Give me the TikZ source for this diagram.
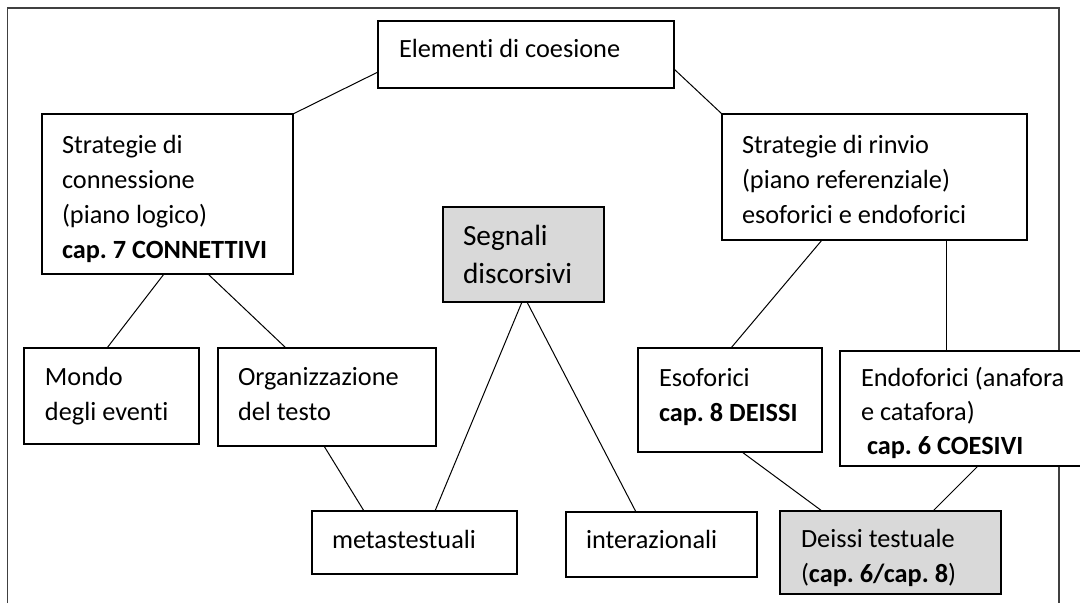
\documentclass[tikz,border=0pt]{standalone}
\usepackage{fontspec}
\setmainfont{Carlito}[Ligatures=NoCommon]
\frenchspacing
\definecolor{boxgray}{HTML}{D9D9D9}
\definecolor{framegray}{HTML}{404040}
\begin{document}
\begin{tikzpicture}[x=1pt,y=-1pt,
  box/.style={draw=black, line width=1.3pt, fill=white, inner sep=0pt, outer sep=0pt, anchor=north west},
  gbox/.style={box, fill=boxgray},
  txt/.style={anchor=base west, inner sep=0pt, outer sep=0pt, font=\fontsize{26.3}{34}\selectfont},
  btxt/.style={txt, font=\fontsize{26.3}{34}\selectfont\bfseries},
  bigtxt/.style={txt, font=\fontsize{29.3}{38}\selectfont},
  conn/.style={draw=black, line width=1pt},
  frame/.style={draw=framegray, line width=1.6pt}]
\clip (0,0) rectangle (1080,603);
\fill[white] (0,0) rectangle (1080,603);
% outer frame (open at the bottom)
\draw[frame] (7.5,603) -- (7.5,8) -- (1059,8) -- (1059,603);

% boxes
\node[box, minimum width=296pt, minimum height=67pt] (elem) at (378,21) {};
\node[box, minimum width=251pt, minimum height=160pt] (conn) at (42,114) {};
\node[box, minimum width=305pt, minimum height=126pt] (rinvio) at (722,114) {};
\node[gbox, minimum width=161pt, minimum height=95pt] (segn) at (443,207) {};
\node[box, minimum width=175pt, minimum height=96pt] (mondo) at (24,348) {};
\node[box, minimum width=218pt, minimum height=98pt] (organ) at (218,348) {};
\node[box, minimum width=205pt, minimum height=63pt] (meta) at (312,511) {};
\node[box, minimum width=191pt, minimum height=65pt] (inter) at (566,512) {};
\node[box, minimum width=184pt, minimum height=104pt] (eso) at (638,348) {};
\node[box, minimum width=260pt, minimum height=115pt] (endo) at (840,351) {};
\node[gbox, minimum width=221pt, minimum height=83pt] (deissi) at (780,511) {};

% texts
\node[txt] (elemA) at (399,57) {Elementi di coesione};

\node[txt] (connA) at (62,153) {Strategie di};
\node[txt] (connB) at (62,188) {connessione};
\node[txt] (connC) at (62,223) {(piano logico)};
\node[btxt] (connD) at (62,258) {cap. 7 CONNETTIVI};

\node[txt] (rinvA) at (742,153) {Strategie di rinvio};
\node[txt] (rinvB) at (742,188) {(piano referenziale)};
\node[txt] (rinvC) at (742,223) {esoforici e endoforici};

\node[bigtxt] (segnA) at (463,245) {Segnali};
\node[bigtxt] (segnB) at (463,283) {discorsivi};

\node[txt] (mondoA) at (45,385) {Mondo};
\node[txt] (mondoB) at (45,420) {degli eventi};

\node[txt] (organA) at (238,385) {Organizzazione};
\node[txt] (organB) at (238,420) {del testo};

\node[txt] (metaA) at (332,548) {metastestuali};
\node[txt] (interA) at (586,548) {interazionali};

\node[txt] (esoA) at (659,386) {Esoforici};
\node[btxt] (esoB) at (659,421) {cap. 8 DEISSI};

\node[txt] (endoA) at (861,386) {Endoforici (anafora};
\node[txt] (endoB) at (861,420) {e catafora)};
\node[btxt] (endoC) at (867,454) {cap. 6 COESIVI};

\node[txt] (deiA) at (801,547) {Deissi testuale};
\node[txt] (deiB) at (801,582) {(\textbf{cap. 6/cap. 8})};

% connectors
\draw[conn] ([yshift=-17.5pt]elem.west) -- (conn.north east);
\draw[conn] ([yshift=-14.5pt]elem.east) -- (rinvio.north west);
\draw[conn] ([xshift=-3.5pt]conn.south) -- ([xshift=-4.5pt]mondo.north);
\draw[conn] ([xshift=40.5pt]conn.south) -- ([xshift=-41pt]organ.north);
\draw[conn] ([xshift=-3pt]organ.south) -- ([xshift=-50.5pt]meta.north);
\draw[conn] ([xshift=-1.5pt]segn.south) -- ([xshift=20.5pt]meta.north);
\draw[conn] ([xshift=3.5pt]segn.south) -- ([xshift=-25.5pt]inter.north);
\draw[conn] ([xshift=-52.5pt]rinvio.south) -- ([xshift=1pt]eso.north);
\draw[conn] ([xshift=71.5pt]rinvio.south) -- ([xshift=-24pt]endo.north);
\draw[conn] ([xshift=12pt]eso.south) -- ([xshift=-68.5pt]deissi.north);
\draw[conn] ([xshift=8pt]endo.south) -- ([xshift=42.5pt]deissi.north);
\end{tikzpicture}
\end{document}
